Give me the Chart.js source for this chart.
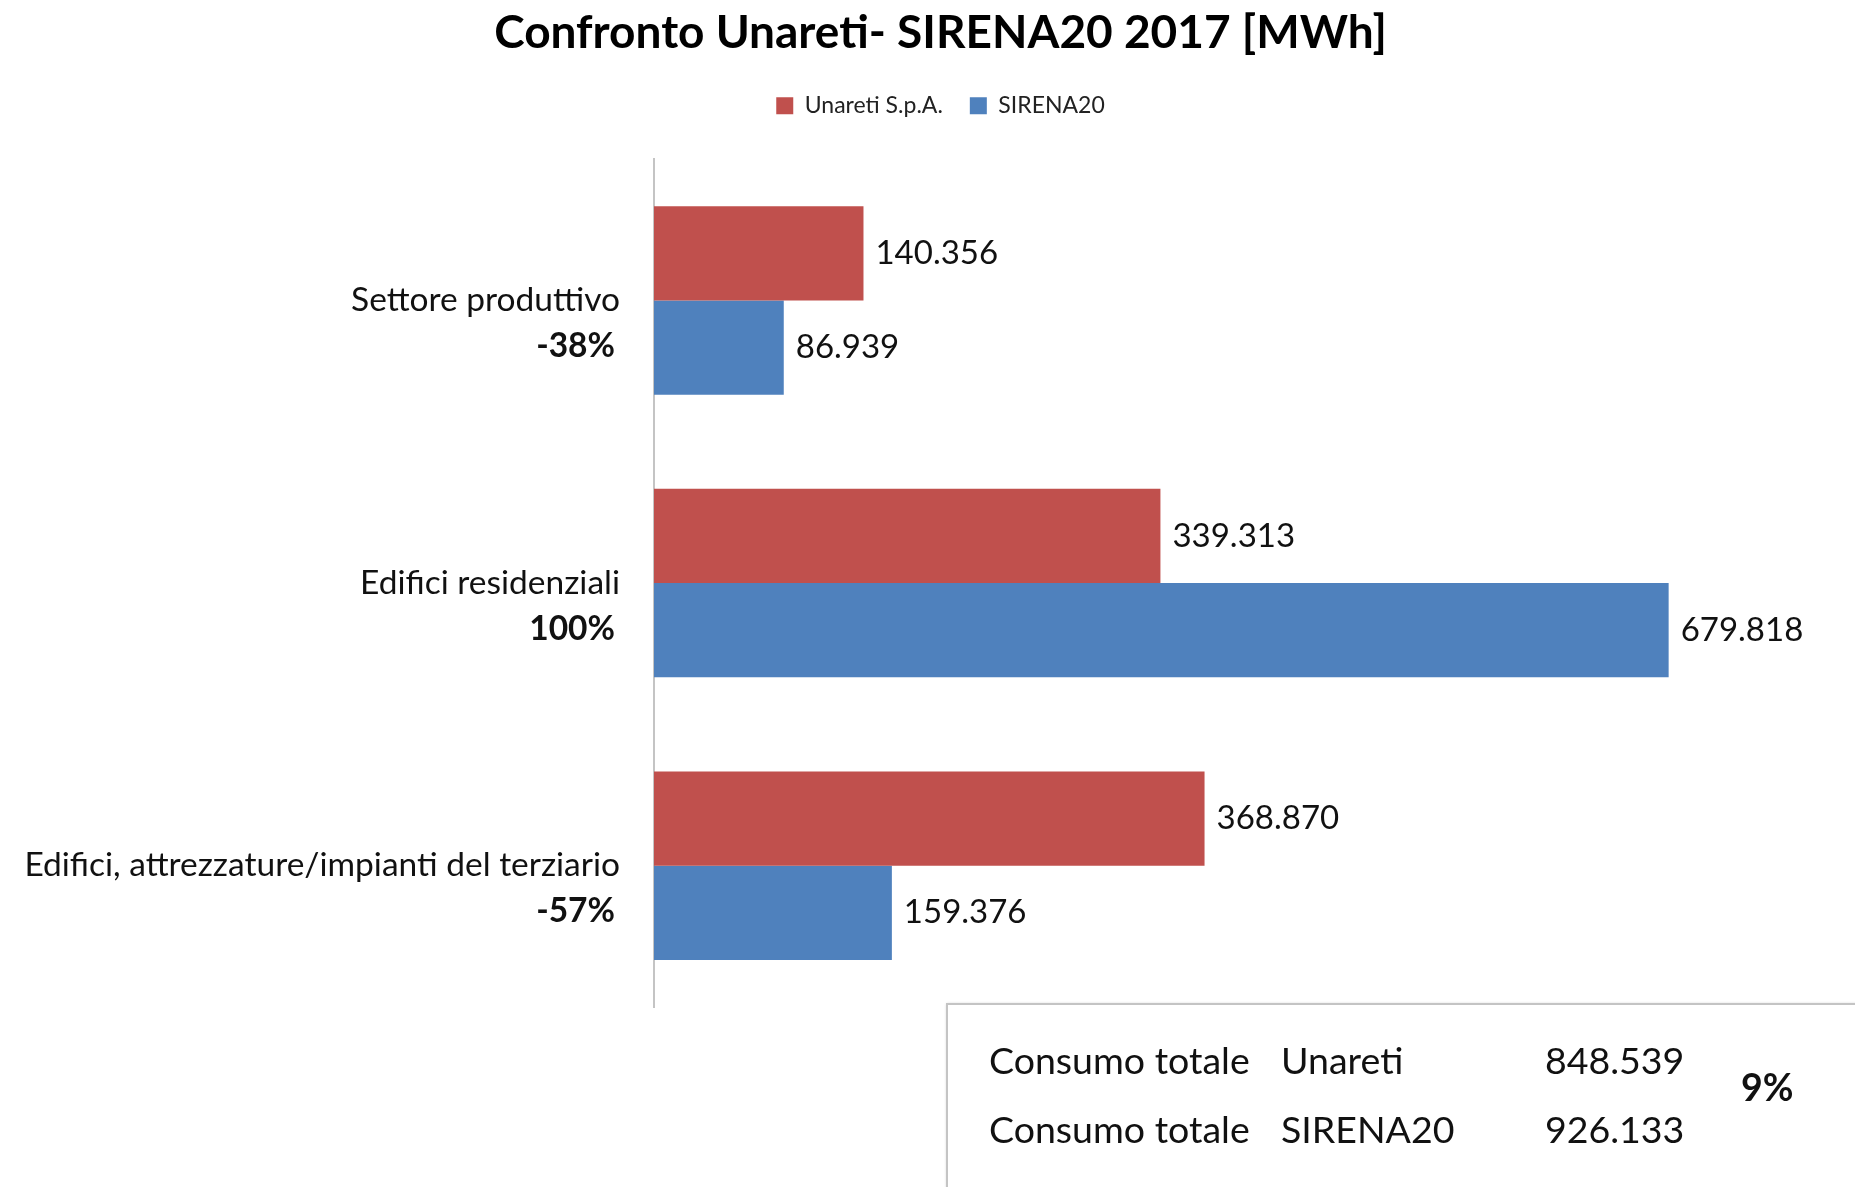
<!DOCTYPE html>
<html>
<head>
<meta charset="utf-8">
<script src="https://cdn.jsdelivr.net/npm/chart.js@4"></script>
<style>
  html, body { margin: 0; padding: 0; background: #fff; }
  #wrap { position: relative; width: 1855px; height: 1187px; overflow: hidden; }
  #totals {
    position: absolute; left: 946px; top: 1003px; width: 960px; height: 260px;
    border: 2px solid #c4c4c4; box-shadow: 1px 1px 3px rgba(0,0,0,0.25);
    font-family: Lato, sans-serif; font-size: 37.5px; color: #111;
  }
  #totals span { position: absolute; white-space: nowrap; line-height: 1; }
</style>
</head>
<body>
<div id="wrap">
  <canvas id="chart" width="1855" height="1187"></canvas>
  <div id="totals"></div>
</div>
<script>
const title = 'Confronto Unareti- SIRENA20 2017 [MWh]';
const categories = ['Settore produttivo', 'Edifici residenziali', 'Edifici, attrezzature/impianti del terziario'];
const seriesNames = ['Unareti S.p.A.', 'SIRENA20'];
const unareti = [140356, 339313, 368870];
const sirena = [86939, 679818, 159376];
const totalLabel = 'Consumo totale';

const RED = '#c0504d';
const BLUE = '#4f81bd';

function fmt(v) {
    return String(v).replace(/\B(?=(\d{3})+(?!\d))/g, '.');
}

function pct(a, b) {
    return Math.round((b / a - 1) * 100) + '%';
}

// category names + percent change, drawn left of the axis
const categoryLabels = {
    id: 'categoryLabels',
    afterDraw(chart) {
        const ctx = chart.ctx;
        const y = chart.scales.y;
        ctx.save();
        ctx.textAlign = 'right';
        ctx.textBaseline = 'middle';
        ctx.fillStyle = '#111';
        categories.forEach((c, i) => {
            const py = y.getPixelForValue(i);
            ctx.font = '33.5px Lato';
            ctx.fillText(c, 620, py);
            ctx.font = 'bold 33.5px Lato';
            ctx.fillText(pct(unareti[i], sirena[i]), 615, py + 46);
        });
        ctx.restore();
    }
};

// value labels at the end of each bar
const valueLabels = {
    id: 'valueLabels',
    afterDatasetsDraw(chart) {
        const ctx = chart.ctx;
        ctx.save();
        ctx.font = '33px Lato';
        ctx.fillStyle = '#111';
        ctx.textBaseline = 'middle';
        chart.data.datasets.forEach((ds, di) => {
            chart.getDatasetMeta(di).data.forEach((bar, i) => {
                ctx.fillText(fmt(ds.data[i]), bar.x + 12, bar.y);
            });
        });
        ctx.restore();
    }
};

new Chart(document.getElementById('chart'), {
    type: 'bar',
    data: {
        labels: categories,
        datasets: [
            { label: seriesNames[0], data: unareti, backgroundColor: RED },
            { label: seriesNames[1], data: sirena, backgroundColor: BLUE }
        ]
    },
    options: {
        indexAxis: 'y',
        responsive: false,
        animation: false,
        categoryPercentage: 0.667,
        barPercentage: 1.0,
        layout: { padding: { left: 30, right: 4, top: 0, bottom: 180 } },
        plugins: {
            title: {
                display: true,
                text: title,
                color: '#000',
                font: { family: 'Lato', size: 46, weight: 'bold' },
                padding: { top: 6, bottom: 6 }
            },
            legend: {
                labels: {
                    color: '#222',
                    font: { family: 'Lato', size: 23 },
                    boxWidth: 17,
                    boxHeight: 17,
                    padding: 27
                }
            },
            tooltip: { enabled: false }
        },
        scales: {
            x: {
                position: 'top', min: 0, max: 802000,
                grid: { display: false }, border: { display: false },
                ticks: { display: false },
                afterFit(scale) { scale.height = 32; }
            },
            y: {
                grid: { display: false },
                border: { display: true, color: '#c4c4c4', width: 2 },
                ticks: { display: false },
                afterFit(scale) { scale.width = 624; }
            }
        }
    },
    plugins: [categoryLabels, valueLabels]
});

// totals box below the chart
const totU = unareti.reduce((a, b) => a + b, 0);
const totS = sirena.reduce((a, b) => a + b, 0);
const box = document.getElementById('totals');
const rows = [['Unareti', totU, 36], ['SIRENA20', totS, 105]];
let html = '';
rows.forEach(r => {
    html += `<span style="left:41px;top:${r[2]}px">${totalLabel}</span>`;
    html += `<span style="left:333px;top:${r[2]}px">${r[0]}</span>`;
    html += `<span style="left:597px;top:${r[2]}px">${fmt(r[1])}</span>`;
});
html += `<span style="left:793px;top:63px;font-weight:bold">${pct(totU, totS)}</span>`;
box.innerHTML = html;
</script>
</body>
</html>
